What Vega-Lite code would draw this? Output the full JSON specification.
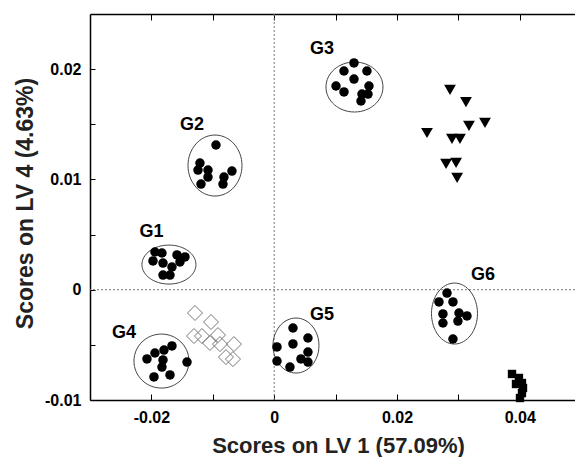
{
  "$schema": "https://vega.github.io/schema/vega-lite/v6.json",
  "width": 485,
  "height": 386,
  "autosize": {"type": "none"},
  "padding": {"left": 90, "top": 14, "right": 0, "bottom": 57},
  "background": "white",
  "resolve": {"axis": {"x": "independent", "y": "independent"}},
  "config": {
    "view": {"stroke": null},
    "font": "Liberation Sans",
    "axis": {"grid": false, "domainColor": "#000", "domainWidth": 1.5, "tickColor": "#000", "tickWidth": 1, "labelFont": "Liberation Sans", "labelFontWeight": "bold", "labelFontSize": 16, "labelColor": "#000", "titleFont": "Liberation Sans", "titleFontWeight": "bold", "titleColor": "#222"}
  },
  "datasets": {
    "pts": [
      {"g": "G1", "x": -0.01942, "y": 0.00342}, {"g": "G1", "x": -0.01828, "y": 0.00333}, {"g": "G1", "x": -0.01974, "y": 0.00261}, {"g": "G1", "x": -0.01811, "y": 0.00242}, {"g": "G1", "x": -0.01583, "y": 0.00315}, {"g": "G1", "x": -0.01453, "y": 0.00297}, {"g": "G1", "x": -0.01535, "y": 0.00252}, {"g": "G1", "x": -0.01665, "y": 0.00206}, {"g": "G1", "x": -0.01811, "y": 0.00133}, {"g": "G1", "x": -0.01697, "y": 0.00133},
      {"g": "G2", "x": -0.00948, "y": 0.01312}, {"g": "G2", "x": -0.01209, "y": 0.01148}, {"g": "G2", "x": -0.01241, "y": 0.01085}, {"g": "G2", "x": -0.01078, "y": 0.01085}, {"g": "G2", "x": -0.01078, "y": 0.01021}, {"g": "G2", "x": -0.01192, "y": 0.00958}, {"g": "G2", "x": -0.00818, "y": 0.01021}, {"g": "G2", "x": -0.00834, "y": 0.00958}, {"g": "G2", "x": -0.00688, "y": 0.01076},
      {"g": "G3", "x": 0.0130, "y": 0.02056}, {"g": "G3", "x": 0.01137, "y": 0.01983}, {"g": "G3", "x": 0.01511, "y": 0.01983}, {"g": "G3", "x": 0.0130, "y": 0.0191}, {"g": "G3", "x": 0.01007, "y": 0.01847}, {"g": "G3", "x": 0.01137, "y": 0.01793}, {"g": "G3", "x": 0.01544, "y": 0.01847}, {"g": "G3", "x": 0.01528, "y": 0.01774}, {"g": "G3", "x": 0.0143, "y": 0.01774}, {"g": "G3", "x": 0.01414, "y": 0.01711},
      {"g": "G4", "x": -0.01665, "y": -0.0051}, {"g": "G4", "x": -0.01795, "y": -0.00547}, {"g": "G4", "x": -0.01942, "y": -0.00574}, {"g": "G4", "x": -0.02072, "y": -0.00628}, {"g": "G4", "x": -0.01811, "y": -0.00637}, {"g": "G4", "x": -0.0142, "y": -0.00656}, {"g": "G4", "x": -0.01828, "y": -0.00701}, {"g": "G4", "x": -0.01697, "y": -0.00773}, {"g": "G4", "x": -0.01958, "y": -0.00791},
      {"g": "G5", "x": 0.00306, "y": -0.00347}, {"g": "G5", "x": 0.00046, "y": -0.00519}, {"g": "G5", "x": 0.00306, "y": -0.00492}, {"g": "G5", "x": 0.0055, "y": -0.00438}, {"g": "G5", "x": 0.0055, "y": -0.00565}, {"g": "G5", "x": 0.00046, "y": -0.00647}, {"g": "G5", "x": 0.00257, "y": -0.00701}, {"g": "G5", "x": 0.00436, "y": -0.00628}, {"g": "G5", "x": 0.0055, "y": -0.00656},
      {"g": "G6", "x": 0.02815, "y": -0.0003}, {"g": "G6", "x": 0.02684, "y": -0.00111}, {"g": "G6", "x": 0.02912, "y": -0.00111}, {"g": "G6", "x": 0.02749, "y": -0.0022}, {"g": "G6", "x": 0.0301, "y": -0.00211}, {"g": "G6", "x": 0.0314, "y": -0.00238}, {"g": "G6", "x": 0.02749, "y": -0.00302}, {"g": "G6", "x": 0.02993, "y": -0.00284}, {"g": "G6", "x": 0.02912, "y": -0.00447}
    ],
    "tri": [
      {"x": 0.02864, "y": 0.01811}, {"x": 0.03124, "y": 0.01702}, {"x": 0.03434, "y": 0.01512}, {"x": 0.03173, "y": 0.01485}, {"x": 0.02489, "y": 0.01421}, {"x": 0.02896, "y": 0.01367}, {"x": 0.03026, "y": 0.01367}, {"x": 0.028, "y": 0.0114}, {"x": 0.02963, "y": 0.01149}, {"x": 0.0298, "y": 0.01013}
    ],
    "dia": [
      {"x": -0.0129, "y": -0.00211}, {"x": -0.01029, "y": -0.00293}, {"x": -0.01306, "y": -0.0042}, {"x": -0.01176, "y": -0.0042}, {"x": -0.00915, "y": -0.00411}, {"x": -0.01046, "y": -0.00483}, {"x": -0.00883, "y": -0.00493}, {"x": -0.00655, "y": -0.00493}, {"x": -0.00785, "y": -0.00611}, {"x": -0.00671, "y": -0.00629}
    ],
    "sq": [
      {"x": 0.03874, "y": -0.00764}, {"x": 0.03987, "y": -0.008}, {"x": 0.04036, "y": -0.00846}, {"x": 0.04053, "y": -0.00891}, {"x": 0.04036, "y": -0.00937}, {"x": 0.04004, "y": -0.00982}, {"x": 0.03939, "y": -0.00855}
    ],
    "ell": [
      {"g": "G1", "x": -0.01714, "y": 0.00228},
      {"g": "G2", "x": -0.00964, "y": 0.01126},
      {"g": "G3", "x": 0.01308, "y": 0.01838},
      {"g": "G4", "x": -0.01836, "y": -0.00647},
      {"g": "G5", "x": 0.00355, "y": -0.00506},
      {"g": "G6", "x": 0.02937, "y": -0.00216}
    ],
    "lab": [
      {"g": "G1", "x": -0.01999, "y": 0.00519},
      {"g": "G2", "x": -0.01339, "y": 0.01493},
      {"g": "G3", "x": 0.00779, "y": 0.02187},
      {"g": "G4", "x": -0.02447, "y": -0.00388},
      {"g": "G5", "x": 0.00779, "y": -0.00225},
      {"g": "G6", "x": 0.03401, "y": 0.00129}
    ],
    "zero": [{"x": 0, "y": 0}]
  },
  "layer": [
    {
      "data": {"name": "zero"},
      "mark": {"type": "rule", "color": "#777", "strokeDash": [2, 2], "strokeWidth": 1},
      "encoding": {"x": {"field": "x", "type": "quantitative", "scale": {"domain": [-0.03, 0.049], "nice": false, "zero": false}, "axis": {"orient": "bottom", "values": [-0.02, -0.01, 0, 0.01, 0.02, 0.03, 0.04], "tickSize": -6, "labelPadding": 15, "labelExpr": "abs(round(datum.value*100)) % 2 == 0 ? (datum.value == 0 ? '0' : (datum.value < 0 ? '-' : '') + format(abs(datum.value), '.2f')) : ''", "title": "Scores on LV 1 (57.09%)", "titleFontSize": 22, "titleX": 248, "titleY": 52, "titleBaseline": "alphabetic", "titleAlign": "center"}}}
    },
    {
      "data": {"name": "zero"},
      "mark": {"type": "rule", "color": "#777", "strokeDash": [2, 2], "strokeWidth": 1},
      "encoding": {"y": {"field": "y", "type": "quantitative", "scale": {"domain": [-0.01, 0.025], "nice": false, "zero": false}, "axis": {"orient": "left", "values": [-0.01, -0.005, 0, 0.005, 0.01, 0.015, 0.02], "tickSize": -5, "labelPadding": 14, "labelExpr": "abs(round(datum.value*1000)) % 10 == 0 ? (datum.value == 0 ? '0' : (datum.value < 0 ? '-' : '') + format(abs(datum.value), '.2f')) : ''", "title": "Scores on LV 4 (4.63%)", "titleFontSize": 23, "titleX": -65, "titleY": 189, "titleBaseline": "middle", "titleAlign": "center", "titleAngle": -90}}}
    },
    {
      "data": {"name": "zero"},
      "mark": {"type": "rule", "opacity": 0},
      "encoding": {"x": {"field": "x", "type": "quantitative", "axis": {"orient": "top", "values": [-0.02, -0.01, 0, 0.01, 0.02, 0.03, 0.04], "tickSize": -6, "labels": false, "title": null}}}
    },
    {
      "data": {"name": "ell"},
      "mark": {"type": "point", "filled": false, "stroke": "#444", "strokeWidth": 1, "size": 4, "opacity": 1},
      "encoding": {
        "x": {"field": "x", "type": "quantitative", "axis": null},
        "y": {"field": "y", "type": "quantitative", "axis": null},
        "shape": {"field": "g", "type": "nominal", "legend": null, "scale": {"domain": ["G1", "G2", "G3", "G4", "G5", "G6"], "range": [
          "M-27,0A27,19.5 0 1,0 27,0A27,19.5 0 1,0 -27,0Z",
          "M-27,0A27,30.5 0 1,0 27,0A27,30.5 0 1,0 -27,0Z",
          "M-28.5,0A28.5,25 0 1,0 28.5,0A28.5,25 0 1,0 -28.5,0Z",
          "M-27.5,0A27.5,27 0 1,0 27.5,0A27.5,27 0 1,0 -27.5,0Z",
          "M-23,0A23,27.5 0 1,0 23,0A23,27.5 0 1,0 -23,0Z",
          "M-23,0A23,30.5 0 1,0 23,0A23,30.5 0 1,0 -23,0Z"
        ]}}
      }
    },
    {
      "data": {"name": "pts"},
      "mark": {"type": "circle", "color": "#000", "size": 90, "opacity": 1},
      "encoding": {"x": {"field": "x", "type": "quantitative", "axis": null}, "y": {"field": "y", "type": "quantitative", "axis": null}}
    },
    {
      "data": {"name": "tri"},
      "mark": {"type": "point", "shape": "triangle-down", "filled": true, "color": "#000", "size": 140, "opacity": 1},
      "encoding": {"x": {"field": "x", "type": "quantitative", "axis": null}, "y": {"field": "y", "type": "quantitative", "axis": null}}
    },
    {
      "data": {"name": "dia"},
      "mark": {"type": "point", "shape": "diamond", "filled": false, "stroke": "#777", "strokeWidth": 1, "size": 225, "opacity": 1},
      "encoding": {"x": {"field": "x", "type": "quantitative", "axis": null}, "y": {"field": "y", "type": "quantitative", "axis": null}}
    },
    {
      "data": {"name": "sq"},
      "mark": {"type": "square", "color": "#000", "size": 70, "opacity": 1},
      "encoding": {"x": {"field": "x", "type": "quantitative", "axis": null}, "y": {"field": "y", "type": "quantitative", "axis": null}}
    },
    {
      "data": {"name": "lab"},
      "mark": {"type": "text", "fontSize": 18, "fontWeight": "bold", "font": "Liberation Sans", "color": "#000", "align": "center", "baseline": "middle"},
      "encoding": {"x": {"field": "x", "type": "quantitative", "axis": null}, "y": {"field": "y", "type": "quantitative", "axis": null}, "text": {"field": "g"}}
    }
  ]
}
